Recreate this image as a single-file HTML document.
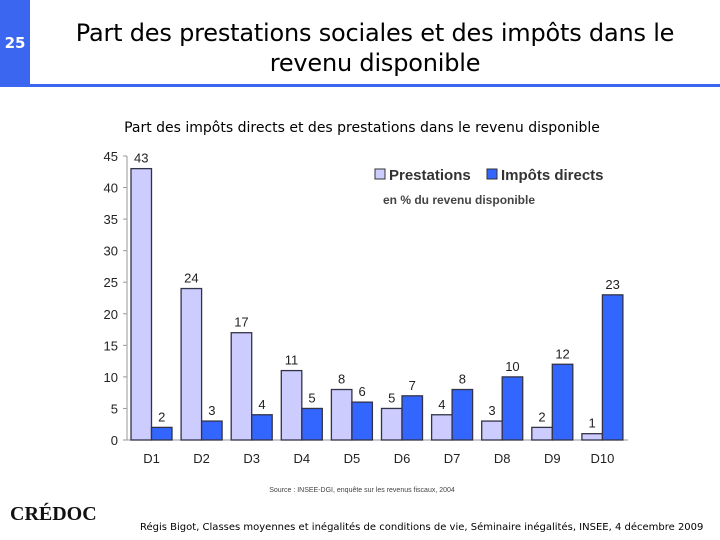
<!DOCTYPE html>
<html><head><meta charset="utf-8"><style>
body{margin:0;width:720px;height:540px;background:#fff;position:relative;overflow:hidden;font-family:"Liberation Sans","DejaVu Sans",sans-serif}
.side{position:absolute;left:0;top:0;width:30px;height:86px;background:#3b66f0}
.num{position:absolute;left:0;top:34px;width:30px;text-align:center;color:#fff;font-weight:bold;font-size:15px;font-family:"DejaVu Sans",sans-serif}
.rule{position:absolute;left:0;top:84px;width:720px;height:3px;background:#3b66f0}
.title{position:absolute;left:30px;top:18px;width:690px;text-align:center;font-size:24px;line-height:30px;font-family:"DejaVu Sans",sans-serif;color:#000;letter-spacing:-0.2px}
</style></head><body>
<div class="side"></div>
<div class="num">25</div>
<div class="rule"></div>
<div class="title">Part des prestations sociales et des impôts dans le<br>revenu disponible</div>
<svg id="c" width="720" height="540" style="position:absolute;left:0;top:0">
<text x="362" y="132" text-anchor="middle" font-size="14" font-family="DejaVu Sans,sans-serif">Part des impôts directs et des prestations dans le revenu disponible</text>
<rect x="375" y="169" width="10" height="10" fill="#ccccff" stroke="#333"/>
<text x="389" y="180" font-size="15" font-weight="bold" fill="#333">Prestations</text>
<rect x="487" y="169" width="10" height="10" fill="#3366ff" stroke="#333"/>
<text x="501" y="180" font-size="15" font-weight="bold" fill="#333">Impôts directs</text>
<text x="383" y="204" font-size="12" font-weight="bold" fill="#444">en % du revenu  disponible</text>
<text x="362" y="492" text-anchor="middle" font-size="7" fill="#444">Source : INSEE-DGI, enquête sur les revenus fiscaux, 2004</text>
<text x="10" y="520" font-size="20" font-weight="bold" font-family="Liberation Serif,serif" fill="#111">CRÉDOC</text>
<text x="140" y="530" font-size="10" font-family="DejaVu Sans,sans-serif" fill="#000">Régis Bigot, Classes moyennes et inégalités de conditions de vie, Séminaire inégalités, INSEE, 4 décembre 2009</text>
</svg>
<script>
const categories=["D1","D2","D3","D4","D5","D6","D7","D8","D9","D10"];
const prestations=[43,24,17,11,8,5,4,3,2,1];
const impots=[2,3,4,5,6,7,8,10,12,23];
const yTicks=[0,5,10,15,20,25,30,35,40,45];
const svg=document.getElementById('c');
const NS='http://www.w3.org/2000/svg';
const x0=127,x1=628,y0=440,yTop=156,yMax=45;
const y=v=>y0-(y0-yTop)*v/yMax;
const gw=(x1-x0)/categories.length;
function mk(t,a){const e=document.createElementNS(NS,t);for(const k in a)e.setAttribute(k,a[k]);svg.appendChild(e);return e;}
let ax=mk('line',{x1:x0,y1:y0,x2:x0,y2:yTop,stroke:'#999'});


let bx=mk('line',{x1:x0,y1:y0,x2:x1,y2:y0,stroke:'#999'});


yTicks.forEach(v=>{
 mk('line',{x1:x0-4,y1:y(v),x2:x0,y2:y(v),stroke:'#999'});
 const t=mk('text',{x:x0-9,y:y(v)+5,'text-anchor':'end','font-size':13,fill:'#222'});t.textContent=v;
 
 
});
categories.forEach((c,i)=>{
 const gx=x0+i*gw, bw=20.5, bx1=gx+4;
 const r1=mk('rect',{x:bx1,y:y(prestations[i]),width:bw,height:y0-y(prestations[i]),fill:'#ccccff',stroke:'#333348','stroke-width':1.3});
 
 
 const r2=mk('rect',{x:bx1+bw,y:y(impots[i]),width:bw,height:y0-y(impots[i]),fill:'#3366ff',stroke:'#333348','stroke-width':1.3});
 
 
 const l1=mk('text',{x:bx1+bw/2,y:y(prestations[i])-6,'text-anchor':'middle','font-size':13,fill:'#222'});l1.textContent=prestations[i];
 
 
 const l2=mk('text',{x:bx1+bw*1.5,y:y(impots[i])-6,'text-anchor':'middle','font-size':13,fill:'#222'});l2.textContent=impots[i];
 
 
 const cl=mk('text',{x:bx1+bw,y:y0+23,'text-anchor':'middle','font-size':13,fill:'#222'});cl.textContent=c;
 
 
});
</script>
</body></html>
